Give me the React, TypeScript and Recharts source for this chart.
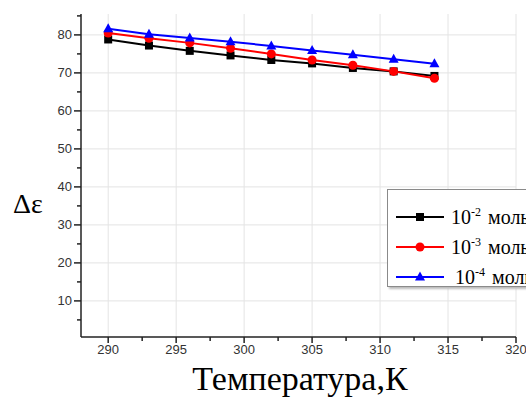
import React from 'react';
import { LineChart, Line, XAxis, YAxis, CartesianGrid } from 'recharts';

const temperatures = [290, 293, 296, 299, 302, 305, 308, 311, 314];
const series1e2 = [78.8, 77.2, 75.8, 74.6, 73.4, 72.5, 71.3, 70.4, 69.2];
const series1e3 = [80.5, 79.1, 77.9, 76.5, 75.0, 73.4, 72.0, 70.4, 68.6];
const series1e4 = [81.6, 80.2, 79.2, 78.2, 77.1, 75.9, 74.8, 73.6, 72.4];
const legendLabels = ['-2', '-3', '-4'];

const xMajor = [290, 295, 300, 305, 310, 315, 320];
const xTicks = [290, 292.5, 295, 297.5, 300, 302.5, 305, 307.5, 310, 312.5, 315, 317.5, 320];
const yMajor = [10, 20, 30, 40, 50, 60, 70, 80];
const yTicks = [5, 10, 15, 20, 25, 30, 35, 40, 45, 50, 55, 60, 65, 70, 75, 80, 85];

const data = temperatures.map((t, i) => ({
  t,
  a: series1e2[i],
  b: series1e3[i],
  c: series1e4[i],
}));

const XTick = (props: any) => {
  const { x, y, payload } = props;
  const major = xMajor.includes(payload.value);
  return (
    <g>
      <line x1={x} y1={y - 8} x2={x} y2={y - 8 + (major ? 6 : 4)} stroke="#222" strokeWidth={1.5} />
      {major && (
        <text x={x} y={y + 9} textAnchor="middle" fontFamily="Liberation Sans, Arial" fontSize={13} fill="#333">
          {payload.value}
        </text>
      )}
    </g>
  );
};

const YTick = (props: any) => {
  const { x, y, payload } = props;
  const major = yMajor.includes(payload.value);
  return (
    <g>
      <line x1={x + 8} y1={y} x2={x + 8 - (major ? 7 : 4)} y2={y} stroke="#222" strokeWidth={1.5} />
      {major && (
        <text x={x - 1} y={y + 4.5} textAnchor="end" fontFamily="Liberation Sans, Arial" fontSize={13} fill="#333">
          {payload.value}
        </text>
      )}
    </g>
  );
};

const Square = (props: any) => {
  const { cx, cy } = props;
  if (cx == null || cy == null) return null;
  return <rect x={cx - 4} y={cy - 4} width={8} height={8} fill="#000" />;
};
const Circle = (props: any) => {
  const { cx, cy } = props;
  if (cx == null || cy == null) return null;
  return <circle cx={cx} cy={cy} r={4.5} fill="#ff0000" />;
};
const Tri = (props: any) => {
  const { cx, cy } = props;
  if (cx == null || cy == null) return null;
  return <polygon points={`${cx},${cy - 5.5} ${cx - 5},${cy + 3.5} ${cx + 5},${cy + 3.5}`} fill="#0000ff" />;
};

const legendColors = ['#000', '#ff0000', '#0000ff'];
const legendMarkers = [
  <rect x={20} y={-4} width={8} height={8} fill="#000" />,
  <circle cx={24} cy={0} r={4.5} fill="#ff0000" />,
  <polygon points="24,-5.5 19,3.5 29,3.5" fill="#0000ff" />,
];

export default function App() {
  return (
    <div style={{ position: 'absolute', left: 0, top: 0, width: 526, height: 408, overflow: 'hidden', background: '#fff' }}>
      <LineChart
        width={526}
        height={408}
        data={data}
        margin={{ top: 14, right: 10, bottom: 41, left: 0 }}
      >
        <CartesianGrid
          stroke="#e4e4e4"
          strokeWidth={1}
          verticalValues={xMajor}
          horizontalValues={yMajor}
        />
        <XAxis
          dataKey="t"
          type="number"
          domain={[288, 320]}
          ticks={xTicks}
          interval={0}
          height={30}
          tickLine={false}
          tick={<XTick />}
          axisLine={{ stroke: '#222', strokeWidth: 1.5 }}
          allowDataOverflow
        />
        <YAxis
          type="number"
          domain={[0.5, 85.5]}
          ticks={yTicks}
          interval={0}
          width={81}
          tickLine={false}
          tick={<YTick />}
          axisLine={{ stroke: '#222', strokeWidth: 1.5 }}
          allowDataOverflow
        />
        <Line dataKey="a" stroke="#000" strokeWidth={2} dot={<Square />} isAnimationActive={false} />
        <Line dataKey="b" stroke="#ff0000" strokeWidth={2} dot={<Circle />} isAnimationActive={false} />
        <Line dataKey="c" stroke="#0000ff" strokeWidth={2} dot={<Tri />} isAnimationActive={false} />
      </LineChart>

      <div style={{ position: 'absolute', left: 13, top: 188, fontFamily: 'Liberation Serif, Times New Roman', fontSize: 28, color: '#000' }}>
        Δε
      </div>
      <div style={{ position: 'absolute', left: 0, width: 600, top: 360, textAlign: 'center', fontFamily: 'Liberation Serif, Times New Roman', fontSize: 34, color: '#000' }}>
        Температура,К
      </div>

      <div style={{ position: 'absolute', left: 387, top: 189, width: 200, height: 96, border: '1.5px solid #8a8a8a', background: '#fff', boxShadow: '2px 2px 2px #bbb' }}>
        {legendLabels.map((sup, i) => (
          <div key={i} style={{ position: 'absolute', left: 8, top: 14 + i * 30, height: 26, display: 'flex', alignItems: 'center', whiteSpace: 'nowrap' }}>
            <svg width={50} height={14} viewBox="0 -7 50 14" style={{ display: 'block' }}>
              <line x1={0} y1={0} x2={48} y2={0} stroke={legendColors[i]} strokeWidth={2} />
              {legendMarkers[i]}
            </svg>
            <span style={{ fontFamily: 'Liberation Serif, Times New Roman', fontSize: 20, marginLeft: i === 2 ? 9 : 5, color: '#000' }}>
              10<sup style={{ fontSize: 12, verticalAlign: 'super', lineHeight: 0, marginRight: 2 }}>{sup}</sup> моль/л
            </span>
          </div>
        ))}
      </div>
    </div>
  );
}
